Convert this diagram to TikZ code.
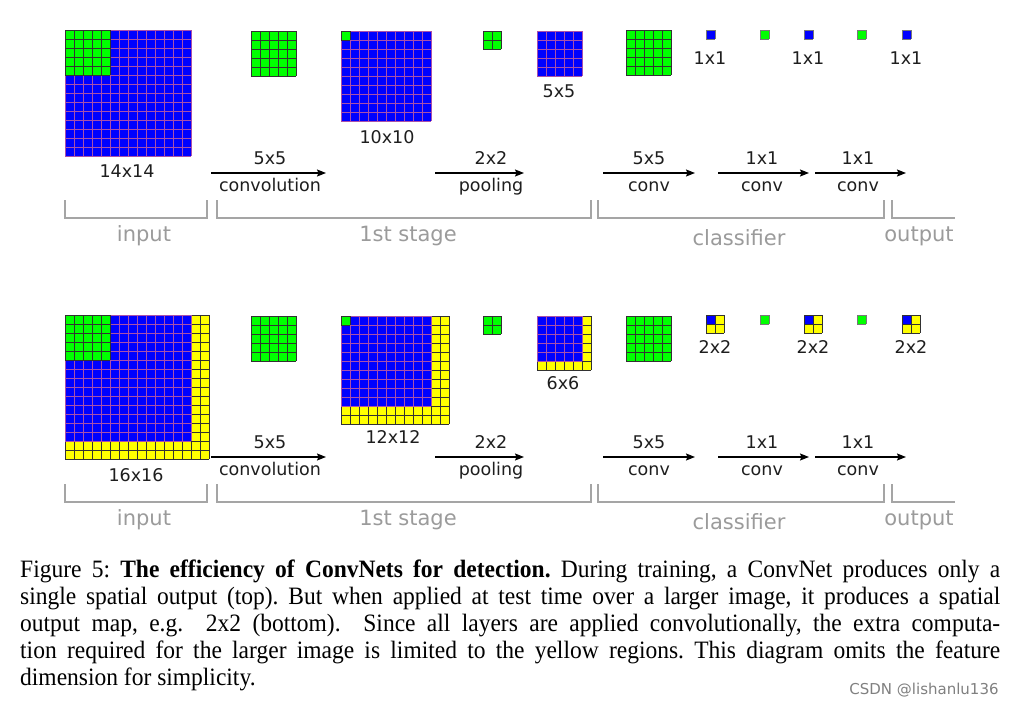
\documentclass[tikz,border=0pt]{standalone}
\usepackage{fontspec}
\setmainfont{Liberation Serif}[FakeStretch=0.94]
\newfontfamily\lblfont{DejaVu Sans}
\usetikzlibrary{arrows.meta}
\definecolor{gblue}{RGB}{0,0,255}
\definecolor{ggreen}{RGB}{0,255,0}
\definecolor{gyellow}{RGB}{255,255,0}
\definecolor{pinkline}{RGB}{170,80,170}
\definecolor{darkline}{RGB}{50,50,50}
\definecolor{cellgray}{RGB}{120,120,120}
\definecolor{brgray}{RGB}{165,165,165}
\definecolor{lblgray}{RGB}{155,155,155}
\definecolor{txtblack}{RGB}{30,30,30}
\newcommand\cgrid[6]{%
  \fill[#5] (#1,#2) rectangle ++(#3*9,#4*9);
  \foreach \ci in {0,...,#3}{\draw[#6,line width=0.6pt] (#1+\ci*9,#2) -- ++(0,#4*9);}
  \foreach \cj in {0,...,#4}{\draw[#6,line width=0.6pt] (#1,#2+\cj*9) -- ++(#3*9,0);}
}
\begin{document}
\frenchspacing
\begin{tikzpicture}[x=1pt,y=-1pt,
  lbl/.style={font=\lblfont\fontsize{17.5}{20}\selectfont, text=txtblack, inner sep=0pt, text height=12.7pt, text depth=0pt},
  stagelbl/.style={font=\lblfont\fontsize{21}{24}\selectfont, text=lblgray, inner sep=0pt},
  arr/.style={line width=1.2pt, -{Stealth[length=9pt,width=7pt,inset=1.5pt]}},
  brk/.style={draw=brgray, line width=1.4pt}]
\fill[white] (0,0) rectangle (1015,704);
\useasboundingbox (0,0) rectangle (1015,704);

% ---------- top row ----------
\cgrid{65}{30}{14}{14}{gblue}{pinkline}
\cgrid{65}{30}{5}{5}{ggreen}{darkline}
\node[lbl] (t14) at (127,171) {14x14};
\cgrid{251}{31}{5}{5}{ggreen}{darkline}
\cgrid{341}{31}{10}{10}{gblue}{pinkline}
\cgrid{341}{31}{1}{1}{ggreen}{darkline}
\node[lbl] (t10) at (387,137) {10x10};
\cgrid{483}{31}{2}{2}{ggreen}{darkline}
\cgrid{537}{31}{5}{5}{gblue}{pinkline}
\node[lbl] (t5) at (559,91) {5x5};
\cgrid{626}{30}{5}{5}{ggreen}{darkline}
\cgrid{706}{30}{1}{1}{gblue}{cellgray}
\cgrid{760}{30}{1}{1}{ggreen}{cellgray}
\cgrid{804}{30}{1}{1}{gblue}{cellgray}
\cgrid{857}{30}{1}{1}{ggreen}{cellgray}
\cgrid{902}{30}{1}{1}{gblue}{cellgray}
\node[lbl] (to1) at (710,58) {1x1};
\node[lbl] (to2) at (808,58) {1x1};
\node[lbl] (to3) at (906,58) {1x1};

\coordinate (ta1s) at (211,173); \coordinate (ta1e) at (326,173);
\coordinate (ta2s) at (435,173); \coordinate (ta2e) at (524,173);
\coordinate (ta3s) at (603,173); \coordinate (ta3e) at (695,173);
\coordinate (ta4s) at (718,173); \coordinate (ta4e) at (809,173);
\coordinate (ta5s) at (815,173); \coordinate (ta5e) at (906,173);
\draw[arr] (ta1s) -- (ta1e);
\draw[arr] (ta2s) -- (ta2e);
\draw[arr] (ta3s) -- (ta3e);
\draw[arr] (ta4s) -- (ta4e);
\draw[arr] (ta5s) -- (ta5e);
\node[lbl] (tk1) at (270,158) {5x5};
\node[lbl] (tn1) at (270,185) {convolution};
\node[lbl] (tk2) at (491,158) {2x2};
\node[lbl] (tn2) at (491,185) {pooling};
\node[lbl] (tk3) at (649,158) {5x5};
\node[lbl] (tn3) at (649,185) {conv};
\node[lbl] (tk4) at (762,158) {1x1};
\node[lbl] (tn4) at (762,185) {conv};
\node[lbl] (tk5) at (858,158) {1x1};
\node[lbl] (tn5) at (858,185) {conv};

\coordinate (tb1a) at (65,200);  \coordinate (tb1b) at (207,200);
\coordinate (tb2a) at (217,200); \coordinate (tb2b) at (591,200);
\coordinate (tb3a) at (598,200); \coordinate (tb3b) at (884,200);
\coordinate (tb4a) at (892,200); \coordinate (tb4b) at (955,218);
\draw[brk] (tb1a) |- (tb1b |- 0,218) -- (tb1b);
\draw[brk] (tb2a) |- (tb2b |- 0,218) -- (tb2b);
\draw[brk] (tb3a) |- (tb3b |- 0,218) -- (tb3b);
\draw[brk] (tb4a) |- (tb4b);
\node[stagelbl] (tsi) at (144,236) {input};
\node[stagelbl] (tss) at (408,236) {1st stage};
\node[stagelbl] (tsc) at (739,238) {classifier};
\node[stagelbl] (tso) at (919,236) {output};

% ---------- bottom row ----------
\cgrid{65}{315}{16}{16}{gyellow}{darkline}
\cgrid{65}{315}{14}{14}{gblue}{pinkline}
\cgrid{65}{315}{5}{5}{ggreen}{darkline}
\node[lbl] (b16) at (136,475) {16x16};
\cgrid{251}{316}{5}{5}{ggreen}{darkline}
\cgrid{341}{316}{12}{12}{gyellow}{darkline}
\cgrid{341}{316}{10}{10}{gblue}{pinkline}
\cgrid{341}{316}{1}{1}{ggreen}{darkline}
\node[lbl] (b12) at (393,437) {12x12};
\cgrid{483}{316}{2}{2}{ggreen}{darkline}
\cgrid{537}{316}{6}{6}{gyellow}{darkline}
\cgrid{537}{316}{5}{5}{gblue}{pinkline}
\node[lbl] (b6) at (563,383) {6x6};
\cgrid{626}{316}{5}{5}{ggreen}{darkline}
\cgrid{706}{315}{2}{2}{gyellow}{darkline}
\cgrid{706}{315}{1}{1}{gblue}{darkline}
\cgrid{760}{315}{1}{1}{ggreen}{cellgray}
\cgrid{804}{315}{2}{2}{gyellow}{darkline}
\cgrid{804}{315}{1}{1}{gblue}{darkline}
\cgrid{857}{315}{1}{1}{ggreen}{cellgray}
\cgrid{902}{315}{2}{2}{gyellow}{darkline}
\cgrid{902}{315}{1}{1}{gblue}{darkline}
\node[lbl] (bo1) at (715,347) {2x2};
\node[lbl] (bo2) at (813,347) {2x2};
\node[lbl] (bo3) at (911,347) {2x2};

\coordinate (ba1s) at (211,457); \coordinate (ba1e) at (326,457);
\coordinate (ba2s) at (435,457); \coordinate (ba2e) at (524,457);
\coordinate (ba3s) at (603,457); \coordinate (ba3e) at (695,457);
\coordinate (ba4s) at (718,457); \coordinate (ba4e) at (809,457);
\coordinate (ba5s) at (815,457); \coordinate (ba5e) at (906,457);
\draw[arr] (ba1s) -- (ba1e);
\draw[arr] (ba2s) -- (ba2e);
\draw[arr] (ba3s) -- (ba3e);
\draw[arr] (ba4s) -- (ba4e);
\draw[arr] (ba5s) -- (ba5e);
\node[lbl] (bk1) at (270,442) {5x5};
\node[lbl] (bn1) at (270,469) {convolution};
\node[lbl] (bk2) at (491,442) {2x2};
\node[lbl] (bn2) at (491,469) {pooling};
\node[lbl] (bk3) at (649,442) {5x5};
\node[lbl] (bn3) at (649,469) {conv};
\node[lbl] (bk4) at (762,442) {1x1};
\node[lbl] (bn4) at (762,469) {conv};
\node[lbl] (bk5) at (858,442) {1x1};
\node[lbl] (bn5) at (858,469) {conv};

\coordinate (bb1a) at (65,484);  \coordinate (bb1b) at (207,484);
\coordinate (bb2a) at (217,484); \coordinate (bb2b) at (591,484);
\coordinate (bb3a) at (598,484); \coordinate (bb3b) at (884,484);
\coordinate (bb4a) at (892,484); \coordinate (bb4b) at (955,502);
\draw[brk] (bb1a) |- (bb1b |- 0,502) -- (bb1b);
\draw[brk] (bb2a) |- (bb2b |- 0,502) -- (bb2b);
\draw[brk] (bb3a) |- (bb3b |- 0,502) -- (bb3b);
\draw[brk] (bb4a) |- (bb4b);
\node[stagelbl] (bsi) at (144,520) {input};
\node[stagelbl] (bss) at (408,520) {1st stage};
\node[stagelbl] (bsc) at (739,522) {classifier};
\node[stagelbl] (bso) at (919,520) {output};

% ---------- caption ----------
\begin{scope}[every node/.style={anchor=base west, inner sep=0pt, font=\fontsize{25}{27}\selectfont}]
\node (cap1) at (20,577) {\makebox[980pt][s]{Figure 5: \textbf{The efficiency of ConvNets for detection.} During training, a ConvNet produces only a}};
\node (cap2) at (20,604) {\makebox[980pt][s]{single spatial output (top). But when applied at test time over a larger image, it produces a spatial}};
\node (cap3) at (20,631) {\makebox[980pt][s]{output map, e.g.\ \ 2x2 (bottom). \ Since all layers are applied convolutionally, the extra computa-}};
\node (cap4) at (20,658) {\makebox[980pt][s]{tion required for the larger image is limited to the yellow regions. This diagram omits the feature}};
\node (cap5) at (20,685) {dimension for simplicity.};
\end{scope}
\node[font=\lblfont\fontsize{15}{17}\selectfont, text=gray, inner sep=0pt] (wm) at (924,690) {CSDN @lishanlu136};
\end{tikzpicture}
\end{document}
